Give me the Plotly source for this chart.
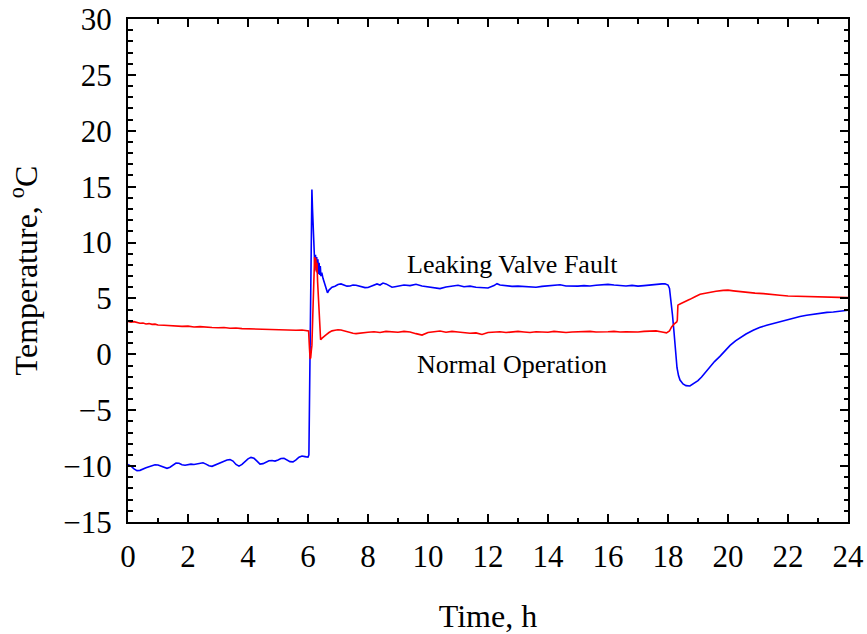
import plotly.graph_objects as go

# ---- Data ----
t_fault = [0.0, 0.1, 0.2, 0.3, 0.4, 0.5, 0.6, 0.7, 0.8, 0.9, 1.0, 1.1, 1.2, 1.3, 1.4, 1.5, 1.6, 1.7, 1.8, 1.9,
           2.0, 2.1, 2.2, 2.3, 2.4, 2.5, 2.6, 2.7, 2.8, 2.9, 3.0, 3.1, 3.2, 3.3, 3.4, 3.5, 3.6, 3.7, 3.8, 3.9,
           4.0, 4.1, 4.2, 4.3, 4.4, 4.5, 4.6, 4.7, 4.8, 4.9, 5.0, 5.1, 5.2, 5.3, 5.4, 5.5, 5.6, 5.7, 5.8, 5.9,
           6.0, 6.03, 6.05, 6.07, 6.09, 6.11, 6.13, 6.15, 6.17, 6.19, 6.21, 6.23, 6.25, 6.27, 6.29, 6.31, 6.33,
           6.35, 6.37, 6.39, 6.41, 6.43, 6.46, 6.50, 6.55, 6.60, 6.65, 6.70, 6.75, 6.80, 6.9,
           7.0, 7.1, 7.2, 7.3, 7.4, 7.5, 7.6, 7.7, 7.8, 7.9, 8.0, 8.1, 8.2, 8.3, 8.4, 8.5, 8.6, 8.7, 8.8, 8.9,
           9.0, 9.2, 9.4, 9.6, 9.8, 10.0, 10.2, 10.4, 10.6, 10.8, 11.0, 11.2, 11.4, 11.6, 11.8, 12.0, 12.2,
           12.3, 12.4, 12.6, 12.8, 13.0, 13.2, 13.4, 13.6, 13.8, 14.0, 14.2, 14.4, 14.6, 14.8, 15.0, 15.2,
           15.4, 15.6, 15.8, 16.0, 16.2, 16.4, 16.6, 16.8, 17.0, 17.2, 17.4, 17.6, 17.8, 17.9, 18.0, 18.05,
           18.1, 18.15, 18.2, 18.25, 18.3, 18.35, 18.4, 18.5, 18.6, 18.73, 18.9, 19.0, 19.12, 19.25, 19.4,
           19.55, 19.73, 19.9, 20.07, 20.25, 20.4, 20.6, 20.84, 21.05, 21.29, 21.5, 21.73, 21.95, 22.18,
           22.4, 22.62, 22.85, 23.07, 23.3, 23.51, 23.75, 24.0]
temp_fault = [-9.85, -10.0, -10.25, -10.4, -10.38, -10.3, -10.15, -10.05, -9.95, -9.88, -9.9, -9.98, -10.1,
              -10.2, -10.1, -9.9, -9.72, -9.75, -9.88, -9.92, -9.85, -9.82, -9.85, -9.8, -9.72, -9.7, -9.82,
              -9.97, -10.02, -9.9, -9.78, -9.65, -9.55, -9.45, -9.42, -9.55, -9.85, -10.0, -9.85, -9.6,
              -9.35, -9.22, -9.3, -9.55, -9.82, -9.78, -9.62, -9.52, -9.5, -9.55, -9.45, -9.32, -9.3, -9.45,
              -9.6, -9.62, -9.45, -9.2, -9.1, -9.15,
              -9.2, -9.0, -5.0, 1.0, 7.0, 12.0, 14.75, 13.0, 11.0, 9.8, 9.0, 7.8, 8.9, 7.5, 8.7, 7.3, 8.5,
              7.2, 8.2, 7.1, 7.9, 7.0, 7.3, 6.8, 6.3, 5.8, 5.5, 5.75, 5.9, 6.0, 6.1,
              6.25, 6.3, 6.22, 6.1, 6.12, 6.2, 6.18, 6.1, 6.02, 5.97, 5.98, 6.1, 6.25, 6.3, 6.2, 6.38, 6.3,
              6.12, 6.0, 6.05,
              6.1, 6.2, 6.15, 6.27, 6.12, 6.05, 5.98, 5.88, 6.02, 6.12, 6.18, 6.05, 6.1, 6.0, 5.95, 5.93, 6.15,
              6.32, 6.2, 6.12, 6.08, 6.1, 6.05, 6.02, 6.0, 6.08, 6.12, 6.18, 6.22, 6.12, 6.08, 6.1, 6.15,
              6.12, 6.18, 6.22, 6.26, 6.2, 6.15, 6.12, 6.17, 6.1, 6.15, 6.22, 6.28, 6.3, 6.32, 6.2, 5.9,
              4.8, 3.5, 2.0, 0.3, -1.2, -1.9, -2.3, -2.65, -2.8, -2.83, -2.56, -2.35, -2.03, -1.6, -1.13,
              -0.65, -0.18, 0.3, 0.8, 1.2, 1.49, 1.82, 2.15, 2.4, 2.6, 2.75, 2.9, 3.1, 3.28,
              3.38, 3.49, 3.6, 3.7, 3.75, 3.79, 3.87, 3.95]

t_normal = [0.0, 0.1, 0.2, 0.3, 0.4, 0.5, 0.6, 0.7, 0.8, 0.9, 1.0, 1.2, 1.4, 1.6, 1.8, 2.0, 2.2, 2.4, 2.6,
            2.8, 3.0, 3.2, 3.4, 3.6, 3.8, 4.0, 4.2, 4.4, 4.6, 4.8, 5.0, 5.2, 5.4, 5.6, 5.8, 5.95, 6.02,
            6.05, 6.07, 6.09, 6.11, 6.13, 6.16, 6.19, 6.22, 6.24, 6.26, 6.28, 6.30, 6.32, 6.35, 6.38, 6.42,
            6.47, 6.52, 6.6, 6.7, 6.8, 6.9, 7.0, 7.1, 7.2, 7.3, 7.4, 7.5, 7.6, 7.7, 7.8, 8.0, 8.2, 8.4,
            8.6, 8.8, 9.0, 9.2, 9.4, 9.6, 9.8, 10.0, 10.2, 10.4, 10.6, 10.8, 11.0, 11.2, 11.4, 11.6, 11.8,
            12.0, 12.2, 12.4, 12.6, 12.8, 13.0, 13.2, 13.4, 13.6, 13.8, 14.0, 14.2, 14.4, 14.6, 14.8, 15.0,
            15.2, 15.4, 15.6, 15.8, 16.0, 16.2, 16.4, 16.6, 16.8, 17.0, 17.2, 17.4, 17.6, 17.8, 17.95,
            18.05, 18.12, 18.2, 18.29, 18.31, 18.33, 18.4, 18.5, 18.6, 18.73, 18.9, 19.07, 19.2, 19.4,
            19.6, 19.84, 20.0, 20.18, 20.4, 20.62, 20.9, 21.18, 21.4, 21.73, 22.0, 22.4, 22.7, 23.07,
            23.5, 24.0]
temp_normal = [2.95, 2.88, 2.92, 2.82, 2.78, 2.8, 2.72, 2.75, 2.68, 2.7, 2.62, 2.6, 2.55, 2.52, 2.5, 2.52,
               2.45, 2.48, 2.42, 2.4, 2.38, 2.4, 2.33, 2.35, 2.3, 2.28, 2.3, 2.24, 2.22, 2.25, 2.2, 2.18,
               2.2, 2.16, 2.18, 2.15, 2.1,
               0.5, -0.4, -0.3, 0.3, 0.8, 3.5, 6.5, 8.7, 7.8, 8.6, 7.4, 8.2, 6.5, 4.5, 2.7, 1.3,
               1.45, 1.6, 1.75, 1.95, 2.1, 2.15, 2.2, 2.18, 2.1, 2.0, 1.92, 1.88, 1.85, 1.9, 1.95, 1.98,
               2.02, 1.95, 2.05, 2.0, 1.98, 2.05, 2.0, 1.85, 1.72, 1.95, 2.0, 2.08, 1.98, 2.05, 2.0, 1.95,
               1.88, 1.92, 1.78, 1.95, 1.98, 2.02, 1.95, 2.0, 2.05, 2.0, 1.95, 2.02, 2.0, 1.98, 2.05, 2.0,
               1.95, 2.0, 2.02, 1.98, 2.05, 2.0, 1.98, 2.02, 2.05, 2.0, 2.02, 2.0, 2.0, 2.05, 2.08, 2.1,
               2.0, 1.92,
               2.1, 2.45, 2.7, 2.9, 3.05, 4.4, 4.5, 4.65, 4.8, 4.92, 5.15, 5.37, 5.45, 5.58, 5.65, 5.72,
               5.74, 5.68, 5.6, 5.52, 5.48, 5.43, 5.35, 5.28, 5.22, 5.19, 5.15, 5.13, 5.1, 5.07]

label_fault = "Leaking Valve Fault"
label_normal = "Normal Operation"
label_fault_pos = (12.8, 8.05)
label_normal_pos = (12.8, -0.9)

FONT = "Liberation Serif, Times New Roman, serif"

fig = go.Figure()
fig.add_trace(go.Scatter(x=t_fault, y=temp_fault, mode="lines",
                         line=dict(color="#0000FF", width=1.6), showlegend=False))
fig.add_trace(go.Scatter(x=t_normal, y=temp_normal, mode="lines",
                         line=dict(color="#FF0000", width=1.6), showlegend=False))

fig.add_annotation(x=label_fault_pos[0], y=label_fault_pos[1], text=label_fault, showarrow=False,
                   font=dict(family=FONT, size=26, color="black"))
fig.add_annotation(x=label_normal_pos[0], y=label_normal_pos[1], text=label_normal, showarrow=False,
                   font=dict(family=FONT, size=26, color="black"))

axis_common = dict(
    showline=True, linecolor="black", linewidth=2, mirror="ticks",
    ticks="inside", ticklen=8, tickwidth=1.5, tickcolor="black",
    showgrid=False, zeroline=False,
    tickfont=dict(family=FONT, size=31, color="black"),
)

fig.update_xaxes(range=[0, 24], dtick=2, tick0=0, ticklabelstandoff=6,
                 minor=dict(dtick=1, ticks="inside", ticklen=4.5, tickwidth=1.5, tickcolor="black", showgrid=False),
                 title=dict(text="Time, h", font=dict(family=FONT, size=32, color="black"), standoff=34),
                 automargin=False, **axis_common)
fig.update_yaxes(range=[-15, 30], dtick=5, tick0=0, ticklabelstandoff=8,
                 minor=dict(dtick=1, ticks="inside", ticklen=4.5, tickwidth=1.5, tickcolor="black", showgrid=False),
                 title=dict(text="Temperature, <sup>o</sup>C", font=dict(family=FONT, size=32, color="black"), standoff=16),
                 automargin=False, **axis_common)

fig.update_layout(
    width=867, height=634,
    margin=dict(l=128, r=19, t=19, b=112),
    plot_bgcolor="white", paper_bgcolor="white",
)

fig.write_html("out.html")
